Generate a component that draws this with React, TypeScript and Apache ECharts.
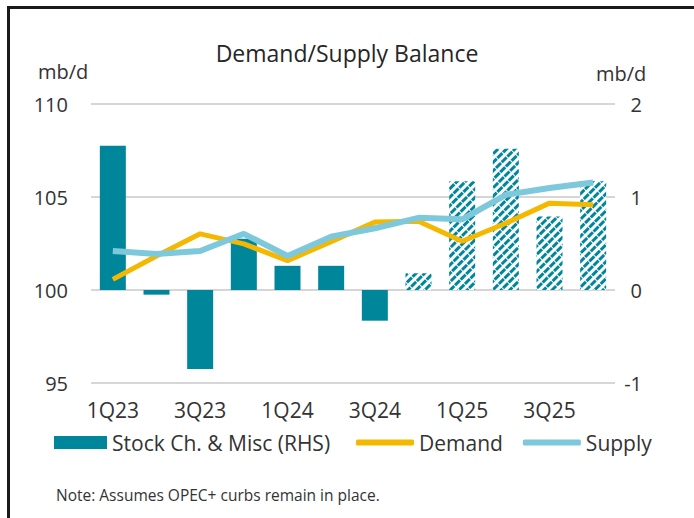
import React, { useEffect, useRef } from "react";
import * as echarts from "echarts";

const categories = ["1Q23", "2Q23", "3Q23", "4Q23", "1Q24", "2Q24", "3Q24", "4Q24", "1Q25", "2Q25", "3Q25", "4Q25"];
const stockChange = [1.55, -0.05, -0.85, 0.55, 0.26, 0.26, -0.33, 0.18, 1.17, 1.52, 0.79, 1.17];
const forecastFrom = 7; // index of first hatched (forecast) bar
const demand = [100.57, 101.83, 103.02, 102.48, 101.58, 102.6, 103.65, 103.7, 102.62, 103.59, 104.67, 104.58];
const supply = [102.1, 101.94, 102.1, 103.02, 101.83, 102.87, 103.32, 103.88, 103.8, 105.12, 105.48, 105.78];
const leftTicks = { min: 95, max: 110, interval: 5 };
const rightTicks = { min: -1, max: 2, interval: 1 };

const TEAL = "#00869B";
const GOLD = "#F5B800";
const SKY = "#7EC8DC";
const TXT = "#333333";
const FONT = "'Open Sans', 'Noto Sans', sans-serif";

export default function App() {
  const ref = useRef<HTMLDivElement>(null);
  useEffect(() => {
    if (!ref.current) return;
    const chart = echarts.init(ref.current, null, { renderer: "svg" });
    const actualBars = stockChange.map((v, i) => (i < forecastFrom ? v : "-"));
    const forecastBars = stockChange.map((v, i) => (i >= forecastFrom ? v : "-"));
    chart.setOption({
      animation: false,
      backgroundColor: "#ffffff",
      textStyle: { fontFamily: FONT, color: TXT },
      title: {
        text: "Demand/Supply Balance",
        left: "center",
        top: 36,
        textStyle: { fontFamily: FONT, fontSize: 23, fontWeight: "normal", color: "#262626" },
      },
      grid: { left: 91, right: 79, top: 104, bottom: 135, containLabel: false },
      legend: [
        {
          data: [{ name: "Stock Ch. & Misc (RHS)", icon: "rect" }],
          left: 54,
          top: 432,
          padding: 0,
          itemWidth: 53,
          itemHeight: 13,
          textStyle: { fontFamily: FONT, fontSize: 21, color: TXT },
          selectedMode: false,
        },
        {
          data: [
            { name: "Demand", icon: "roundRect" },
            { name: "Supply", icon: "roundRect" },
          ],
          left: 356,
          top: 432,
          padding: 0,
          itemWidth: 58,
          itemHeight: 6,
          itemGap: 20,
          textStyle: { fontFamily: FONT, fontSize: 21, color: TXT },
          selectedMode: false,
        },
      ],
      xAxis: {
        type: "category",
        data: categories,
        axisLine: { show: false },
        axisTick: { show: false },
        axisLabel: { interval: 1, margin: 16, fontSize: 21, color: TXT, fontFamily: FONT },
      },
      yAxis: [
        {
          type: "value",
          min: leftTicks.min,
          max: leftTicks.max,
          interval: leftTicks.interval,
          axisLine: { show: false },
          axisTick: { show: false },
          axisLabel: { margin: 23, fontSize: 20, color: TXT, fontFamily: FONT },
          splitLine: { lineStyle: { color: "#d6d6d6", width: 2 } },
        },
        {
          type: "value",
          position: "right",
          min: rightTicks.min,
          max: rightTicks.max,
          interval: rightTicks.interval,
          axisLine: { show: false },
          axisTick: { show: false },
          axisLabel: { margin: 27, align: "right", fontSize: 20, color: TXT, fontFamily: FONT },
          splitLine: { show: false },
        },
      ],
      series: [
        {
          name: "Stock Ch. & Misc (RHS)",
          type: "bar",
          yAxisIndex: 1,
          barWidth: 26,
          barGap: "-100%",
          itemStyle: { color: TEAL },
          data: actualBars,
          z: 2,
        },
        {
          name: "Stock forecast",
          type: "bar",
          yAxisIndex: 1,
          barWidth: 26,
          barGap: "-100%",
          itemStyle: {
            color: "#ffffff",
            decal: {
              symbol: "rect",
              symbolSize: 1,
              color: TEAL,
              backgroundColor: "#ffffff",
              dashArrayX: [7, 1],
              dashArrayY: [3, 2.5],
              rotation: -Math.PI / 4,
            },
          },
          data: forecastBars,
          z: 2,
        },
        {
          name: "Demand",
          type: "line",
          yAxisIndex: 0,
          data: demand,
          symbol: "none",
          lineStyle: { color: GOLD, width: 5 },
          itemStyle: { color: GOLD },
          z: 3,
        },
        {
          name: "Supply",
          type: "line",
          yAxisIndex: 0,
          data: supply,
          symbol: "none",
          lineStyle: { color: SKY, width: 6 },
          itemStyle: { color: SKY },
          z: 4,
        },
      ],
      graphic: [
        { type: "line", shape: { x1: 7, y1: 7.5, x2: 694, y2: 7.5 }, style: { stroke: "#1a1a1a", lineWidth: 3 } },
        { type: "line", shape: { x1: 8.5, y1: 6, x2: 8.5, y2: 518 }, style: { stroke: "#1a1a1a", lineWidth: 3 } },
        {
          type: "text",
          left: 38,
          top: 61,
          style: { text: "mb/d", fontFamily: FONT, fontSize: 20, fill: TXT },
        },
        {
          type: "text",
          left: 596,
          top: 63,
          style: { text: "mb/d", fontFamily: FONT, fontSize: 20, fill: TXT },
        },
        {
          type: "text",
          left: 56,
          top: 487,
          style: { text: "Note: Assumes OPEC+ curbs remain in place.", fontFamily: FONT, fontSize: 15.5, fill: TXT },
        },
      ],
    });
    return () => chart.dispose();
  }, []);
  return (
    <div
      ref={ref}
      style={{ position: "fixed", left: 0, top: 0, width: 694, height: 518 }}
    />
  );
}
